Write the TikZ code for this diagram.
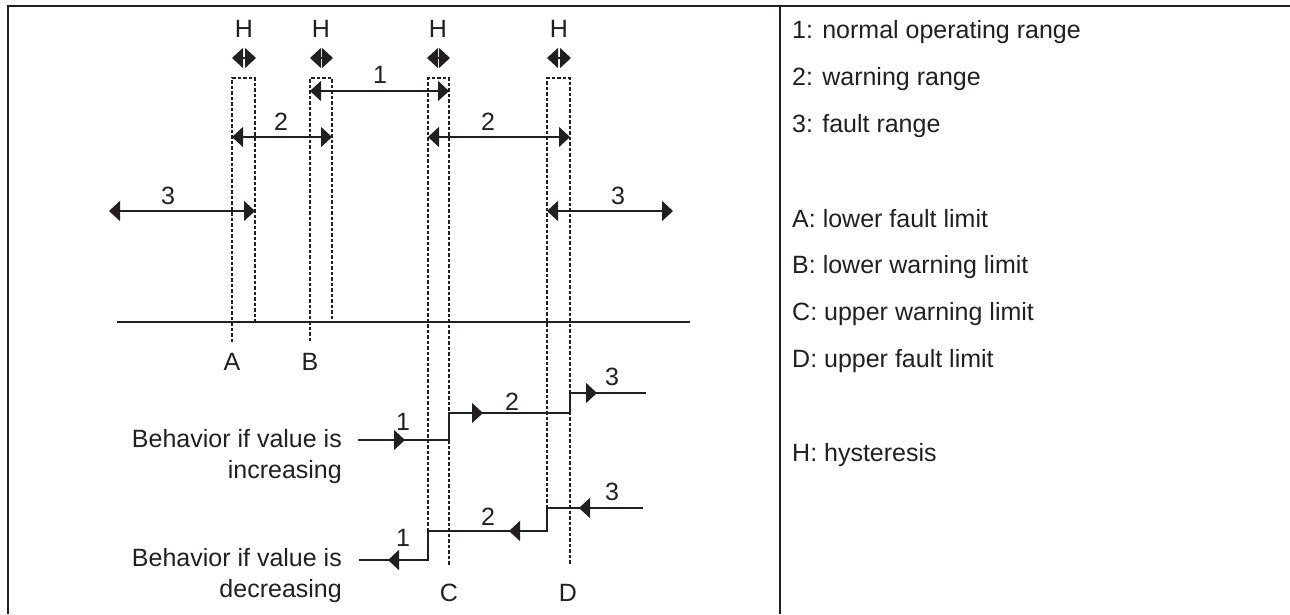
\documentclass[tikz,border=0pt]{standalone}
\usepackage{fontspec}
\setmainfont{Liberation Sans}
\usetikzlibrary{arrows.meta}
\definecolor{ink}{HTML}{231F20}
\begin{document}
\begin{tikzpicture}[x=1pt,y=-1pt,
  font=\fontsize{25}{31}\selectfont,
  every node/.style={inner sep=0pt, text=ink},
  frame/.style={draw=ink, line width=2.2pt},
  ln/.style={draw=ink, line width=1.5pt},
  dsh/.style={draw=ink, line width=1.1pt, dash pattern=on 3.5pt off 2pt},
  arr/.style={ln, -{Triangle[length=11pt 0 0,width=20pt 0 0]}},
  dbl/.style={ln, {Triangle[length=11pt 0 0,width=20pt 0 0]}-{Triangle[length=11pt 0 0,width=20pt 0 0]}},
  leg/.style={anchor=base west}]
\useasboundingbox (0,0) rectangle (1290,614);
% frame
\coordinate (ftl) at (8,6);
\coordinate (ftr) at (1290,6);
\coordinate (fbl) at (8,614);
\coordinate (fmt) at (780,6);
\coordinate (fmb) at (780,614);
\draw[frame] (fbl) -- (ftl) -- (ftr);
\draw[frame] (fmt) -- (fmb);
% axis
\coordinate (ax0) at (117,322);
\coordinate (ax1) at (690,322);
\draw[ln] (ax0) -- (ax1);
% dashed hysteresis boxes
\coordinate (Atl) at (232,78); \coordinate (Atr) at (255,78);
\coordinate (Abl) at (232,342); \coordinate (Abr) at (255,322);
\coordinate (Btl) at (310,78); \coordinate (Btr) at (332,78);
\coordinate (Bbl) at (310,341); \coordinate (Bbr) at (332,322);
\coordinate (Ctl) at (428,78); \coordinate (Ctr) at (449,78);
\coordinate (Cbl) at (428,531); \coordinate (Cbr) at (449,565);
\coordinate (Dtl) at (547,78); \coordinate (Dtr) at (570,78);
\coordinate (Dbl) at (547,508); \coordinate (Dbr) at (570,565);
\draw[dsh] (Abl) -- (Atl) -- (Atr) -- (Abr);
\draw[dsh] (Bbl) -- (Btl) -- (Btr) -- (Bbr);
\draw[dsh] (Cbl) -- (Ctl) -- (Ctr) -- (Cbr);
\draw[dsh] (Dbl) -- (Dtl) -- (Dtr) -- (Dbr);
% H labels and arrows
\node (hA) at (244,29) {H};
\node (hB) at (321,29) {H};
\node (hC) at (438,29) {H};
\node (hD) at (559,29) {H};
\coordinate (hA0) at (232,58); \coordinate (hA1) at (256,58);
\coordinate (hB0) at (310,58); \coordinate (hB1) at (333,58);
\coordinate (hC0) at (427,58); \coordinate (hC1) at (450,58);
\coordinate (hD0) at (547,58); \coordinate (hD1) at (571,58);
\draw[dbl] (hA0) -- (hA1);
\draw[dbl] (hB0) -- (hB1);
\draw[dbl] (hC0) -- (hC1);
\draw[dbl] (hD0) -- (hD1);
% ranges
\coordinate (r1a) at (310,91); \coordinate (r1b) at (449,91);
\draw[dbl] (r1a) -- (r1b);
\node (l1) at (380,75) {1};
\coordinate (r2a) at (232,137); \coordinate (r2b) at (332,137);
\draw[dbl] (r2a) -- (r2b);
\node (l2a) at (281,122) {2};
\coordinate (r2c) at (428,137); \coordinate (r2d) at (570,137);
\draw[dbl] (r2c) -- (r2d);
\node (l2b) at (488,122) {2};
\coordinate (r3a) at (109,211); \coordinate (r3b) at (255,211);
\draw[dbl] (r3a) -- (r3b);
\node (l3a) at (168,196) {3};
\coordinate (r3c) at (547,211); \coordinate (r3d) at (673,211);
\draw[dbl] (r3c) -- (r3d);
\node (l3b) at (618,196) {3};
% limit letters
\node (A) at (232,362) {A};
\node (B) at (310,362) {B};
\node (C) at (449,593) {C};
\node (D) at (568,593) {D};
% increasing behaviour
\node[align=right, anchor=north east] (inc) at (342,429) {Behavior if value is\\increasing};
\coordinate (i0) at (358,440); \coordinate (i1) at (449,440);
\coordinate (i2) at (449,413); \coordinate (i3) at (570,413);
\coordinate (i4) at (570,393); \coordinate (i5) at (646,393);
\draw[ln] (i0) -- (i1) -- (i2) -- (i3) -- (i4) -- (i5);
\coordinate (ia1) at (405,440); \coordinate (ia2) at (483,413); \coordinate (ia3) at (597,393);
\draw[arr] (i0) -- (ia1);
\draw[arr] (i2) -- (ia2);
\draw[arr] (i4) -- (ia3);
\node (ni1) at (403,422) {1};
\node (ni2) at (512,402) {2};
\node (ni3) at (612,377) {3};
% decreasing behaviour
\node[align=right, anchor=north east] (dec) at (342,548) {Behavior if value is\\decreasing};
\coordinate (d0) at (643,508); \coordinate (d1) at (547,508);
\coordinate (d2) at (547,531); \coordinate (d3) at (428,531);
\coordinate (d4) at (428,560); \coordinate (d5) at (359,560);
\draw[ln] (d0) -- (d1) -- (d2) -- (d3) -- (d4) -- (d5);
\coordinate (da1) at (579,508); \coordinate (da2) at (509,531); \coordinate (da3) at (388,560);
\draw[arr] (d0) -- (da1);
\draw[arr] (d2) -- (da2);
\draw[arr] (d4) -- (da3);
\node (nd3) at (612,492) {3};
\node (nd2) at (488,517) {2};
\node (nd1) at (403,538) {1};
% legend
\node[leg] (g1) at (792,38) {1: normal operating range};
\node[leg] (g2) at (792,85) {2: warning range};
\node[leg] (g3) at (792,132) {3: fault range};
\node[leg] (gA) at (792,227) {A: lower fault limit};
\node[leg] (gB) at (792,273) {B: lower warning limit};
\node[leg] (gC) at (792,320) {C: upper warning limit};
\node[leg] (gD) at (792,367) {D: upper fault limit};
\node[leg] (gH) at (792,461) {H: hysteresis};
\end{tikzpicture}
\end{document}
